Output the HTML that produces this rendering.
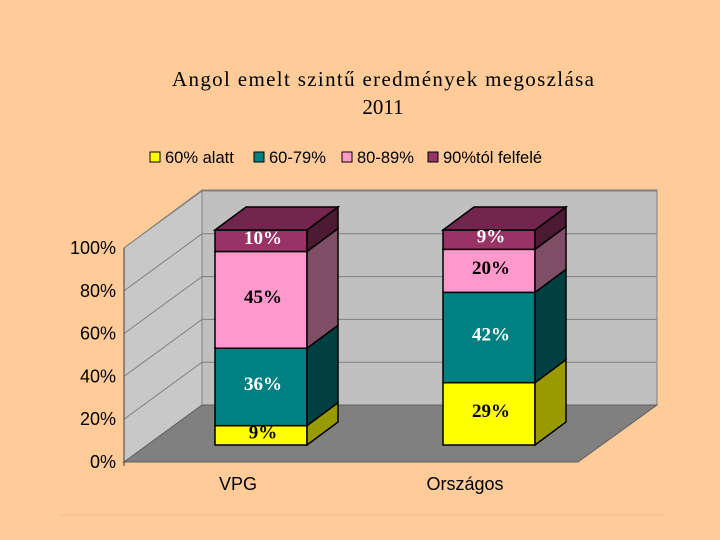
<!DOCTYPE html>
<html><head><meta charset="utf-8"><style>
body{margin:0;background:#FFCC99;}
svg{display:block}
</style></head><body>
<svg id="c" width="720" height="540" xmlns="http://www.w3.org/2000/svg">
<rect width="720" height="540" fill="#FFCC99"/>
<text x="383" y="86" text-anchor="middle" font-family="Liberation Serif, serif" font-size="21" textLength="422">Angol emelt szintű eredmények megoszlása</text>
<text x="383" y="114" text-anchor="middle" font-family="Liberation Serif, serif" font-size="21">2011</text>
<g id="walls"></g>
<g id="bars"></g>
<g id="legend"></g>
</svg>
<script>
const categories=["VPG","Országos"];
const seriesNames=["60% alatt","60-79%","80-89%","90%tól felfelé"];
const vals0=[9,29];
const vals1=[36,42];
const vals2=[45,20];
const vals3=[10,9];
const ticks=[0,20,40,60,80,100];
const tickLabels=["0%","20%","40%","60%","80%","100%"];

const NS="http://www.w3.org/2000/svg";
const svg=document.getElementById('c');
function mk(t,a,p){const e=document.createElementNS(NS,t);for(const k in a)e.setAttribute(k,a[k]);(p||svg).appendChild(e);return e;}
const DX=78,DY=-57;
const yFront=v=>462-v*2.14;
const yBar=v=>445-v*2.15;
const walls=document.getElementById('walls');
let e=mk('polygon',{points:`202,405 657,405 657,190 202,190`,fill:"#C0C0C0",stroke:"#808080"},walls);

e=mk('polygon',{points:`124,462 202,405 202,190 124,248`,fill:"#C8C8C8",stroke:"#808080"},walls);

e=mk('polygon',{points:`124,462 578,462 657,405 202,405`,fill:"#808080",stroke:"#606060"},walls);

ticks.forEach((t,i)=>{
  const yf=yFront(t);
  if(t>0){
    const g=mk('polyline',{points:`124,${yf} 202,${yf+DY} 657,${yf+DY}`,fill:"none",stroke:"#808080","stroke-width":1},walls);
    
  }
  const l=mk('text',{x:116,y:yf+6,"text-anchor":"end","font-family":"Liberation Sans, sans-serif","font-size":18},walls);
  l.textContent=tickLabels[i];
  
});
mk('line',{x1:124,y1:248,x2:124,y2:466,stroke:"#404040"},walls);
mk('line',{x1:60,y1:515,x2:665,y2:515,stroke:"#F2C08F","stroke-width":1},walls);
const colors=[["#FFFF00","#999900","#CCCC00"],["#008080","#004040","#006060"],["#FF99CC","#804D66","#CC7AA3"],["#993366","#4D1A33","#73264D"]];
const txtCol=["#000","#fff","#000","#fff"];
const series=[vals0,vals1,vals2,vals3];
const barX=[215,443];const BW=92,bx=31,by=-23;
const labelX=[238,465];
const bars=document.getElementById('bars');
categories.forEach((c,ci)=>{
  let cum=0;const x=barX[ci];
  series.forEach((s,si)=>{
    const v=s[ci];const y0=yBar(cum),y1=yBar(cum+v);cum+=v;
    const f=mk('rect',{x:x,y:y1,width:BW,height:y0-y1,fill:colors[si][0],stroke:"#000","stroke-width":1.5},bars);
    
    const sd=mk('polygon',{points:`${x+BW},${y0} ${x+BW+bx},${y0+by} ${x+BW+bx},${y1+by} ${x+BW},${y1}`,fill:colors[si][1],stroke:"#000","stroke-width":1.5},bars);
    
    if(si===series.length-1){
      const tp=mk('polygon',{points:`${x},${y1} ${x+bx},${y1+by} ${x+BW+bx},${y1+by} ${x+BW},${y1}`,fill:colors[si][2],stroke:"#000","stroke-width":1.5},bars);
      
    }
    const t=mk('text',{x:x+BW/2+2,y:(y0+y1)/2+3,"text-anchor":"middle","font-family":"Liberation Serif, serif","font-weight":"bold","font-size":19,fill:txtCol[si]},bars);
    t.textContent=v+'%';
    
  });
  const cl=mk('text',{x:labelX[ci],y:490,"text-anchor":"middle","font-family":"Liberation Sans, sans-serif","font-size":18},bars);
  cl.textContent=c;
  
});
const legend=document.getElementById('legend');
const lx=[150,254,342,428];
seriesNames.forEach((n,i)=>{
  const r=mk('rect',{x:lx[i],y:152,width:10,height:10,fill:colors[i][0],stroke:"#000"},legend);
  
  const t=mk('text',{x:lx[i]+15,y:163,"font-family":"Liberation Sans, sans-serif","font-size":16.5},legend);
  t.textContent=n;
  
});
</script>
</body></html>
